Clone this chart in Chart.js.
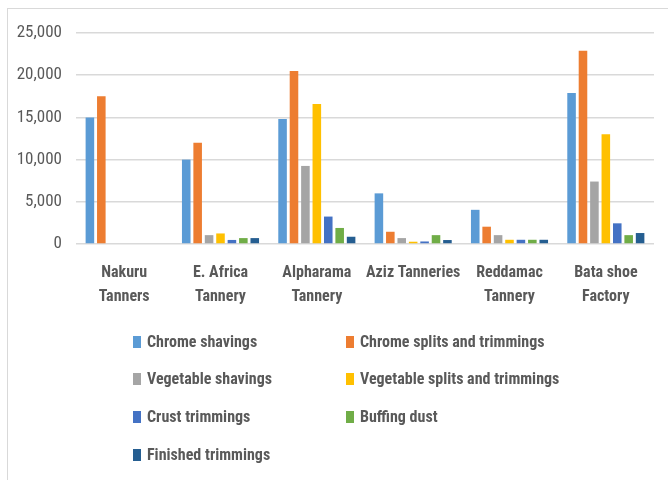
<!DOCTYPE html>
<html>
<head>
<meta charset="utf-8">
<script src="https://cdn.jsdelivr.net/npm/chart.js@4/dist/chart.umd.min.js"></script>
<style>
  html, body { margin: 0; padding: 0; background: #fff; }
  #wrap { position: relative; width: 668px; height: 480px; overflow: hidden; }
  #frame { position: absolute; left: 7px; top: 8px; width: 700px; height: 520px; border: 1px solid #d9d9d9; box-sizing: border-box; }
  #c { position: absolute; left: 0; top: 0; }
  .lg { position: absolute; height: 20px; line-height: 20px; font-family: 'Liberation Sans Narrow','Arial Narrow','Roboto Condensed','Liberation Sans',sans-serif; font-weight: bold; font-size: 16px; color: #595959; white-space: nowrap; }
  .lg span.box { position: absolute; left: 0; top: 4px; width: 8px; height: 12px; }
  .lg span.tx { position: absolute; left: 14px; top: 0; }
</style>
</head>
<body>
<div id="wrap">
  <div id="frame"></div>
  <canvas id="c" width="668" height="480"></canvas>
  <div id="legend"></div>
</div>
<script>
const categories = [
  ["Nakuru", "Tanners"],
  ["E. Africa", "Tannery"],
  ["Alpharama", "Tannery"],
  ["Aziz Tanneries"],
  ["Reddamac", "Tannery"],
  ["Bata shoe", "Factory"]
];
const seriesNames = [
  "Chrome shavings",
  "Chrome splits and trimmings",
  "Vegetable shavings",
  "Vegetable splits and trimmings",
  "Crust trimmings",
  "Buffing dust",
  "Finished trimmings"
];
const seriesColors = ["#5B9BD5", "#ED7D31", "#A5A5A5", "#FFC000", "#4472C4", "#70AD47", "#255E91"];

const chromeShavings       = [15000, 10000, 14800, 6000, 4050, 17900];
const chromeSplits         = [17500, 12000, 20500, 1450, 2050, 22900];
const vegetableShavings    = [0, 1050, 9250, 700, 1050, 7400];
const vegetableSplits      = [0, 1250, 16600, 270, 500, 13000];
const crustTrimmings       = [0, 480, 3250, 300, 500, 2450];
const buffingDust          = [0, 700, 1900, 1050, 500, 1050];
const finishedTrimmings    = [0, 700, 860, 470, 500, 1300];

const yTicks = { min: 0, max: 25000, step: 5000 };

const seriesValues = [chromeShavings, chromeSplits, vegetableShavings, vegetableSplits, crustTrimmings, buffingDust, finishedTrimmings];

const FONT = "'Liberation Sans Narrow','Arial Narrow','Roboto Condensed','Liberation Sans',sans-serif";

const datasets = seriesNames.map((name, i) => ({
  label: name,
  data: seriesValues[i],
  backgroundColor: seriesColors[i],
  borderWidth: 0,
  categoryPercentage: 0.83,
  barPercentage: 0.75
}));

new Chart(document.getElementById('c'), {
  type: 'bar',
  data: { labels: categories, datasets: datasets },
  options: {
    responsive: false,
    animation: false,
    devicePixelRatio: 1,
    layout: { padding: { top: 33, right: 14, left: 0, bottom: 0 } },
    plugins: { legend: { display: false }, tooltip: { enabled: false } },
    scales: {
      x: {
        grid: { display: false, drawTicks: false },
        border: { display: false },
        ticks: {
          color: '#595959',
          font: { family: FONT, size: 16, weight: 'bold', lineHeight: 1.5 },
          padding: 17,
          maxRotation: 0,
          autoSkip: false
        },
        afterFit: (s) => { s.height = 236; }
      },
      y: {
        min: yTicks.min,
        max: yTicks.max,
        grid: { color: '#d9d9d9', lineWidth: 1.5, drawTicks: false },
        border: { display: false },
        ticks: {
          stepSize: yTicks.step,
          color: '#595959',
          font: { family: FONT, size: 17 },
          padding: 14,
          callback: (v) => v.toLocaleString('en-US')
        },
        afterFit: (s) => { s.width = 76; }
      }
    }
  }
});

// Legend (two columns, like the reference)
const legendEl = document.getElementById('legend');
const colX = [133, 346];
const rowY = [342, 379, 417, 455];
seriesNames.forEach((name, i) => {
  const item = document.createElement('div');
  item.className = 'lg';
  item.style.left = colX[i % 2] + 'px';
  item.style.top = (rowY[Math.floor(i / 2)] - 10) + 'px';
  const box = document.createElement('span');
  box.className = 'box';
  box.style.background = seriesColors[i];
  const tx = document.createElement('span');
  tx.className = 'tx';
  tx.textContent = name;
  item.appendChild(box);
  item.appendChild(tx);
  legendEl.appendChild(item);
});
</script>
</body>
</html>
